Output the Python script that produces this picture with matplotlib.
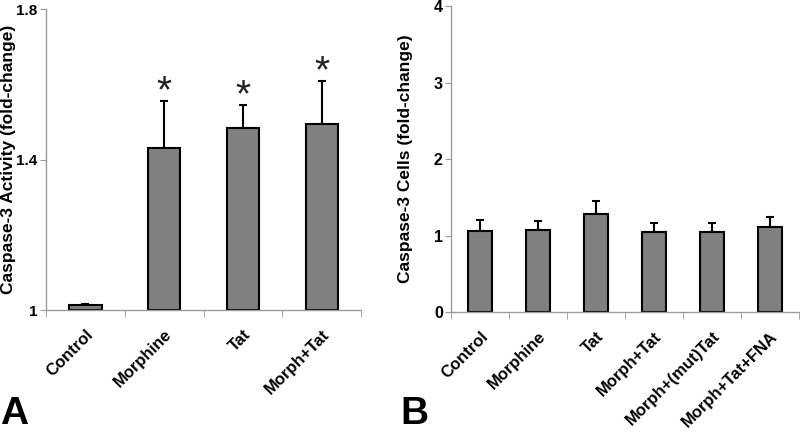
import matplotlib
matplotlib.use("Agg")
import matplotlib.pyplot as plt
import numpy as np

plt.rcParams['font.family'] = ['Liberation Sans', 'DejaVu Sans']

# Panel A data
groups_a = ['Control', 'Morphine', 'Tat', 'Morph+Tat']
activity = [1.013, 1.43, 1.485, 1.495]
activity_err = [0.003, 0.126, 0.061, 0.114]
signif_a = [False, True, True, True]

# Panel B data
groups_b = ['Control', 'Morphine', 'Tat', 'Morph+Tat', 'Morph+(mut)Tat', 'Morph+Tat+FNA']
cells = [1.06, 1.07, 1.28, 1.05, 1.05, 1.11]
cells_err = [0.15, 0.12, 0.17, 0.11, 0.11, 0.14]

BAR = '#808080'
AXIS = '#9a9a9a'


def style_axes(ax, n):
    for s in ['top', 'right']:
        ax.spines[s].set_visible(False)
    for s in ['left', 'bottom']:
        ax.spines[s].set_color(AXIS)
        ax.spines[s].set_linewidth(1.0)
    ax.set_xlim(-0.5, n - 0.5)
    # ticks between categories, labels at centres
    ax.set_xticks(np.arange(n + 1) - 0.5, minor=True)
    ax.set_xticks(np.arange(n))
    ax.tick_params(axis='x', which='major', length=0, pad=12)
    ax.tick_params(axis='x', which='minor', length=5, color=AXIS, direction='out')
    ax.tick_params(axis='y', length=4, color=AXIS, direction='out', pad=2)


def draw_bars(ax, labels, vals, errs, base):
    x = np.arange(len(labels))
    heights = np.array(vals) - base
    ax.bar(x, heights, bottom=base, width=0.41, color=BAR, edgecolor='black',
           linewidth=1.5, zorder=2)
    ax.errorbar(x, vals, yerr=[np.zeros(len(errs)), errs], fmt='none',
                ecolor='black', elinewidth=1.5, capsize=3, capthick=1.5, zorder=1)
    ax.set_xticklabels(labels, rotation=45, ha='right', rotation_mode='anchor',
                       fontsize=12, fontweight='bold')
    return x


fig = plt.figure(figsize=(8, 4.33), dpi=100)

# Panel A
ax1 = fig.add_axes([0.0575, 0.284, 0.394, 0.695])
style_axes(ax1, len(groups_a))
x1 = draw_bars(ax1, groups_a, activity, activity_err, 1.0)
ax1.set_ylim(1.0, 1.8)
ax1.set_yticks([1.0, 1.4, 1.8])
ax1.set_yticklabels(['1', '1.4', '1.8'], fontweight='bold', fontsize=11)
ax1.set_ylabel('Caspase-3 Activity (fold-change)', fontsize=12.5, fontweight='bold')
ax1.yaxis.set_label_coords(-0.095, 0.5)
for xi, v, e, sig in zip(x1, activity, activity_err, signif_a):
    if sig:
        ax1.text(xi, v + e + 0.022, '*', ha='center', va='center', fontsize=28,
                 color='#222222')

# Panel B
ax2 = fig.add_axes([0.564, 0.279, 0.435, 0.707])
style_axes(ax2, len(groups_b))
draw_bars(ax2, groups_b, cells, cells_err, 0.0)
ax2.set_ylim(0, 4)
ax2.set_yticks([0, 1, 2, 3, 4])
ax2.set_yticklabels(['0', '1', '2', '3', '4'], fontweight='bold', fontsize=11.5)
ax2.set_ylabel('Caspase-3 Cells (fold-change)', fontsize=12.5, fontweight='bold')
ax2.yaxis.set_label_coords(-0.11, 0.5)

fig.text(0.0, 0.003, 'A', fontsize=28, fontweight='bold', ha='left', va='bottom')
fig.text(0.5, 0.003, 'B', fontsize=28, fontweight='bold', ha='left', va='bottom')

fig.savefig('out.png', dpi=100)
